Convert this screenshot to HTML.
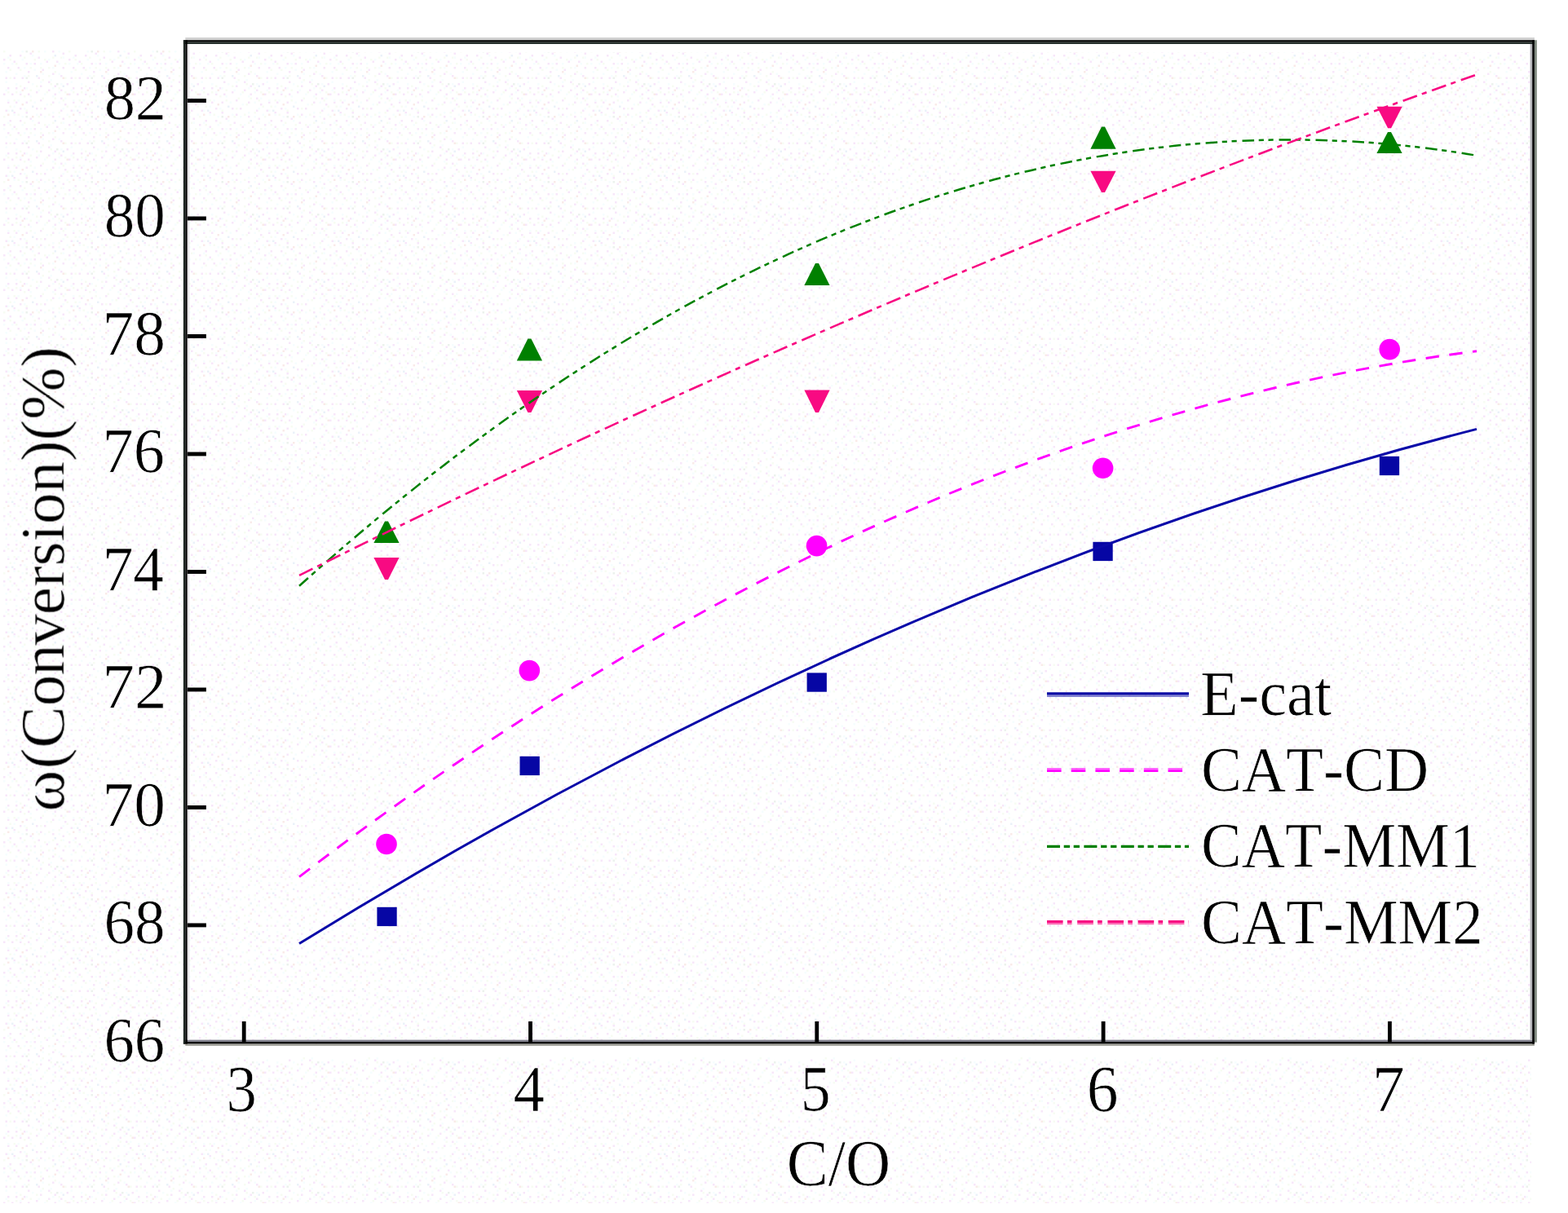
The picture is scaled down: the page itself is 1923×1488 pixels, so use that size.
<!DOCTYPE html>
<html lang="en">
<head>
<meta charset="utf-8">
<title>Conversion vs C/O</title>
<style>
html,body{margin:0;padding:0;background:#fff;overflow:hidden}
svg{display:block}
text{font-family:"Liberation Serif","DejaVu Serif",serif;font-kerning:none;fill:#000;font-size:79.5px;stroke:#fff;stroke-width:0.7px;stroke-linejoin:round}
.soft{filter:blur(0.55px)}
</style>
</head>
<body>
<svg xmlns="http://www.w3.org/2000/svg" width="1923" height="1488" viewBox="0 0 1923 1488">
<defs>
<pattern id="dz" width="80" height="80" patternUnits="userSpaceOnUse" x="4" y="62">
<path fill="#f7e7fa" d="M70 72.5h2.5v2.5h-2.5zM70 30h2.5v2.5h-2.5zM27.5 75h2.5v2.5h-2.5zM27.5 15h2.5v2.5h-2.5zM70 47.5h2.5v2.5h-2.5zM5 62.5h2.5v2.5h-2.5zM0 10h2.5v2.5h-2.5zM7.5 5h2.5v2.5h-2.5zM30 37.5h2.5v2.5h-2.5zM2.5 72.5h2.5v2.5h-2.5zM50 70h2.5v2.5h-2.5zM45 77.5h2.5v2.5h-2.5zM65 12.5h2.5v2.5h-2.5zM40 50h2.5v2.5h-2.5zM15 62.5h2.5v2.5h-2.5zM15 45h2.5v2.5h-2.5zM60 62.5h2.5v2.5h-2.5zM52.5 12.5h2.5v2.5h-2.5zM17.5 20h2.5v2.5h-2.5zM37.5 15h2.5v2.5h-2.5zM2.5 32.5h2.5v2.5h-2.5zM27.5 62.5h2.5v2.5h-2.5zM22.5 32.5h2.5v2.5h-2.5zM0 52.5h2.5v2.5h-2.5zM45 60h2.5v2.5h-2.5zM12.5 32.5h2.5v2.5h-2.5zM72.5 20h2.5v2.5h-2.5zM60 27.5h2.5v2.5h-2.5zM30 25h2.5v2.5h-2.5zM42.5 32.5h2.5v2.5h-2.5zM32.5 2.5h2.5v2.5h-2.5zM20 5h2.5v2.5h-2.5zM55 47.5h2.5v2.5h-2.5zM70 57.5h2.5v2.5h-2.5zM5 20h2.5v2.5h-2.5zM12.5 75h2.5v2.5h-2.5zM60 0h2.5v2.5h-2.5zM77.5 40h2.5v2.5h-2.5zM47.5 22.5h2.5v2.5h-2.5zM20 70h2.5v2.5h-2.5zM62.5 42.5h2.5v2.5h-2.5zM55 37.5h2.5v2.5h-2.5zM25 45h2.5v2.5h-2.5zM30 52.5h2.5v2.5h-2.5zM40 70h2.5v2.5h-2.5zM12.5 12.5h2.5v2.5h-2.5zM72.5 2.5h2.5v2.5h-2.5zM45 42.5h2.5v2.5h-2.5zM62.5 52.5h2.5v2.5h-2.5zM42.5 7.5h2.5v2.5h-2.5zM10 52.5h2.5v2.5h-2.5zM75 65h2.5v2.5h-2.5zM20 52.5h2.5v2.5h-2.5zM5 45h2.5v2.5h-2.5z"/>
<path fill="#f7fcf3" d="M45 20h2.5v2.5h-2.5zM62.5 25h2.5v2.5h-2.5zM50 10h2.5v2.5h-2.5zM52.5 50h2.5v2.5h-2.5zM30 30h2.5v2.5h-2.5zM7.5 32.5h2.5v2.5h-2.5zM32.5 60h2.5v2.5h-2.5zM7.5 67.5h2.5v2.5h-2.5zM60 7.5h2.5v2.5h-2.5zM75 15h2.5v2.5h-2.5zM12.5 60h2.5v2.5h-2.5zM17.5 77.5h2.5v2.5h-2.5zM15 15h2.5v2.5h-2.5zM7.5 10h2.5v2.5h-2.5zM57.5 65h2.5v2.5h-2.5zM55 77.5h2.5v2.5h-2.5zM20 42.5h2.5v2.5h-2.5zM37.5 10h2.5v2.5h-2.5zM57.5 40h2.5v2.5h-2.5zM20 22.5h2.5v2.5h-2.5zM77.5 67.5h2.5v2.5h-2.5zM67.5 45h2.5v2.5h-2.5zM5 50h2.5v2.5h-2.5zM72.5 60h2.5v2.5h-2.5zM32.5 20h2.5v2.5h-2.5zM75 50h2.5v2.5h-2.5zM0 0h2.5v2.5h-2.5zM67.5 75h2.5v2.5h-2.5zM42.5 0h2.5v2.5h-2.5zM27.5 72.5h2.5v2.5h-2.5zM55 20h2.5v2.5h-2.5zM25 55h2.5v2.5h-2.5zM32.5 47.5h2.5v2.5h-2.5zM47.5 57.5h2.5v2.5h-2.5zM7.5 22.5h2.5v2.5h-2.5zM40 42.5h2.5v2.5h-2.5zM25 7.5h2.5v2.5h-2.5zM75 32.5h2.5v2.5h-2.5zM47.5 35h2.5v2.5h-2.5zM45 70h2.5v2.5h-2.5zM62.5 57.5h2.5v2.5h-2.5zM70 7.5h2.5v2.5h-2.5zM15 50h2.5v2.5h-2.5zM55 30h2.5v2.5h-2.5z"/>
<path fill="#f6fdfe" d="M15 27.5h2.5v2.5h-2.5zM25 70h2.5v2.5h-2.5zM10 15h2.5v2.5h-2.5zM50 52.5h2.5v2.5h-2.5zM47.5 27.5h2.5v2.5h-2.5zM12.5 77.5h2.5v2.5h-2.5zM70 40h2.5v2.5h-2.5zM45 37.5h2.5v2.5h-2.5zM35 40h2.5v2.5h-2.5zM5 60h2.5v2.5h-2.5zM2.5 47.5h2.5v2.5h-2.5zM32.5 55h2.5v2.5h-2.5zM45 15h2.5v2.5h-2.5zM22.5 0h2.5v2.5h-2.5zM17.5 60h2.5v2.5h-2.5zM37.5 62.5h2.5v2.5h-2.5zM72.5 70h2.5v2.5h-2.5zM15 40h2.5v2.5h-2.5zM60 75h2.5v2.5h-2.5zM55 10h2.5v2.5h-2.5zM32.5 15h2.5v2.5h-2.5zM67.5 27.5h2.5v2.5h-2.5zM72.5 7.5h2.5v2.5h-2.5zM37.5 22.5h2.5v2.5h-2.5zM57.5 35h2.5v2.5h-2.5zM2.5 25h2.5v2.5h-2.5zM0 15h2.5v2.5h-2.5zM2.5 37.5h2.5v2.5h-2.5zM40 77.5h2.5v2.5h-2.5zM25 30h2.5v2.5h-2.5zM60 55h2.5v2.5h-2.5zM50 0h2.5v2.5h-2.5zM60 20h2.5v2.5h-2.5zM60 45h2.5v2.5h-2.5zM52.5 65h2.5v2.5h-2.5zM22.5 10h2.5v2.5h-2.5zM67.5 62.5h2.5v2.5h-2.5zM75 57.5h2.5v2.5h-2.5zM77.5 77.5h2.5v2.5h-2.5zM27.5 45h2.5v2.5h-2.5zM67.5 15h2.5v2.5h-2.5zM5 7.5h2.5v2.5h-2.5zM25 20h2.5v2.5h-2.5zM35 5h2.5v2.5h-2.5zM42.5 47.5h2.5v2.5h-2.5zM20 50h2.5v2.5h-2.5zM5 72.5h2.5v2.5h-2.5zM67.5 50h2.5v2.5h-2.5zM67.5 0h2.5v2.5h-2.5zM12.5 67.5h2.5v2.5h-2.5z"/>
<path fill="#f9ebe9" d="M72.5 32.5h2.5v2.5h-2.5zM22.5 47.5h2.5v2.5h-2.5zM35 0h2.5v2.5h-2.5zM62.5 17.5h2.5v2.5h-2.5zM22.5 65h2.5v2.5h-2.5zM5 77.5h2.5v2.5h-2.5zM45 25h2.5v2.5h-2.5zM77.5 52.5h2.5v2.5h-2.5z"/>
<path fill="#ebf2f9" d="M35 67.5h2.5v2.5h-2.5zM10 72.5h2.5v2.5h-2.5zM62.5 5h2.5v2.5h-2.5zM72.5 42.5h2.5v2.5h-2.5zM40 30h2.5v2.5h-2.5z"/>
<path fill="#ecf2ed" d="M27.5 32.5h2.5v2.5h-2.5zM27.5 0h2.5v2.5h-2.5zM65 40h2.5v2.5h-2.5z"/>
</pattern>
</defs>
<rect width="1923" height="1488" fill="#fff"/>
<rect x="4" y="62" width="1874" height="1414" fill="url(#dz)"/>
<rect x="230" y="54" width="1647" height="10" fill="#fff"/>
<rect x="230" y="1283" width="1652" height="14" fill="#fff"/>
<g class="soft">
<g fill="#0606a4">
<rect x="462.4" y="1112.8" width="24.3" height="23.3"/>
<rect x="637.5" y="927.8" width="24.3" height="23.3"/>
<rect x="989.6" y="825.4" width="24.3" height="23.3"/>
<rect x="1340.4" y="664.8" width="24.3" height="23.3"/>
<rect x="1691.8" y="559.8" width="24.3" height="23.3"/>
</g>
<g fill="#ff00ff">
<circle cx="474.0" cy="1035.5" r="12.8"/>
<circle cx="649.3" cy="822.6" r="12.8"/>
<circle cx="1001.6" cy="669.6" r="12.8"/>
<circle cx="1352.6" cy="574.3" r="12.8"/>
<circle cx="1704.2" cy="428.6" r="12.8"/>
</g>
<g fill="#008000">
<path d="M472.0 639.4h4L489.6 666.1H458.4Z"/>
<path d="M647.4 415.6h4L665.0 442.4H633.8Z"/>
<path d="M1000.0 322.9h4L1017.6 350.1H986.4Z"/>
<path d="M1351.0 155.4h4L1368.6 182.8H1337.4Z"/>
<path d="M1702.0 161.9h4L1719.6 188.1H1688.4Z"/>
</g>
<g fill="#f80a82">
<path d="M472.0 710.9h4L489.6 683.9H458.4Z"/>
<path d="M647.4 506.1h4L665.0 478.9H633.8Z"/>
<path d="M1000.0 505.9h4L1017.6 478.6H986.4Z"/>
<path d="M1351.0 236.1h4L1368.6 209.7H1337.4Z"/>
<path d="M1702.1 157.2h4L1719.7 130.8H1688.5Z"/>
</g>
<g fill="none">
<path d="M367.0 1157.5Q1089.0 710.6 1811.0 526.4" stroke="#0a0aa8" stroke-width="3.0"/>
<path d="M367.0 1075.6Q1089.0 522.6 1811.0 430.7" stroke="#ff00ff" stroke-width="2.9" stroke-dasharray="16.4 12.6" stroke-dashoffset="0"/>
<path d="M367.0 718.8Q1089.0 68.5 1811.0 190.8" stroke="#008000" stroke-width="2.5" stroke-dasharray="14.6 5.6 6.2 5.6 6.2 6.8" stroke-dashoffset="0"/>
<path d="M367.0 705.9Q1089.0 345.1 1811.0 91.5" stroke="#f80a82" stroke-width="2.6" stroke-dasharray="18.3 6.3 6.2 7" stroke-dashoffset="0"/>
</g>
<path d="M1284 850.7H1458" fill="none" stroke="#0606a4" stroke-width="3.0"/>
<path d="M1284 853.5H1458" fill="none" stroke="#0606a4" stroke-width="2.8" stroke-opacity="0.5"/>
<path d="M1284 943.2H1458" fill="none" stroke="#ff00ff" stroke-width="2.4" stroke-dasharray="17.6 12.1" stroke-opacity="0.6"/>
<path d="M1284 945.6H1458" fill="none" stroke="#ff00ff" stroke-width="2.7" stroke-dasharray="17.6 12.1"/>
<path d="M1284 1038.3H1458" fill="none" stroke="#008000" stroke-width="3.3" stroke-dasharray="16 4.7 7.3 4.7 7.3 5.4"/>
<path d="M1284 1130.6H1458" fill="none" stroke="#f80a82" stroke-width="3.0" stroke-dasharray="19.6 5.3 5.6 6.7"/>
<path d="M1284 1133.1H1458" fill="none" stroke="#f80a82" stroke-width="2.3" stroke-dasharray="19.6 5.3 5.6 6.7" stroke-opacity="0.6"/>
</g>
<g>
<rect x="227.3" y="46" width="1654.6" height="3.2" fill="#d0d0d0"/>
<rect x="224.9" y="49.2" width="1657" height="2.5" fill="#000"/>
<rect x="224.9" y="51.7" width="1657" height="2.3" fill="#26302c"/>
<rect x="224.9" y="1275.6" width="1657" height="2.5" fill="#80808c"/>
<rect x="224.9" y="1278.1" width="1657" height="2.5" fill="#000"/>
<rect x="227.3" y="1280.6" width="1654.6" height="2.3" fill="#a0a098"/>
<rect x="224.9" y="49.2" width="2.4" height="1231.4" fill="#1c2420"/>
<rect x="227.3" y="49.2" width="2.5" height="1231.4" fill="#000"/>
<rect x="229.8" y="54" width="2.4" height="1221.6" fill="#e8e6e8"/>
<rect x="1876.6" y="54" width="2.6" height="1221.6" fill="#b4b4b8"/>
<rect x="1879.2" y="49.2" width="2.7" height="1231.4" fill="#000"/>
<rect x="1881.9" y="49.2" width="2.9" height="1229.4" fill="#808a80"/>
<rect x="229.8" y="1132.5" width="23.1" height="4.9" fill="#000"/>
<rect x="229.8" y="988.0" width="23.1" height="4.9" fill="#000"/>
<rect x="229.8" y="843.5" width="23.1" height="4.9" fill="#000"/>
<rect x="229.8" y="699.0" width="23.1" height="4.9" fill="#000"/>
<rect x="229.8" y="554.5" width="23.1" height="4.9" fill="#000"/>
<rect x="229.8" y="410.0" width="23.1" height="4.9" fill="#000"/>
<rect x="229.8" y="265.5" width="23.1" height="4.9" fill="#000"/>
<rect x="229.8" y="121.0" width="23.1" height="4.9" fill="#000"/>
<rect x="296.8" y="1252.9" width="4.8" height="25.3" fill="#000"/>
<rect x="648.1" y="1252.9" width="4.8" height="25.3" fill="#000"/>
<rect x="999.4" y="1252.9" width="4.8" height="25.3" fill="#000"/>
<rect x="1350.7" y="1252.9" width="4.8" height="25.3" fill="#000"/>
<rect x="1702.0" y="1252.9" width="4.8" height="25.3" fill="#000"/>
</g>
<g class="soft">
<text transform="translate(127.38 1301.5) scale(0.9642 1)" style="font-size:77.6px">66</text>
<text transform="translate(127.38 1157.0) scale(0.9688 1)" style="font-size:77.6px">68</text>
<text transform="translate(125.55 1012.5) scale(0.9970 1)" style="font-size:77.6px">70</text>
<text transform="translate(125.39 868.0) scale(1.0186 1)" style="font-size:77.6px">72</text>
<text transform="translate(125.66 723.5) scale(0.9720 1)" style="font-size:77.6px">74</text>
<text transform="translate(125.58 579.0) scale(0.9843 1)" style="font-size:77.6px">76</text>
<text transform="translate(125.49 434.5) scale(0.9980 1)" style="font-size:77.6px">78</text>
<text transform="translate(127.84 290.0) scale(0.9667 1)" style="font-size:77.6px">80</text>
<text transform="translate(127.65 145.5) scale(0.9854 1)" style="font-size:77.6px">82</text>
<text transform="translate(277.43 1362.5) scale(0.9352 1)" style="font-size:80px">3</text>
<text transform="translate(629.48 1362.5) scale(0.9628 1)" style="font-size:80px">4</text>
<text transform="translate(981.70 1362.5) scale(0.9247 1)" style="font-size:80px">5</text>
<text transform="translate(1332.66 1362.5) scale(0.9702 1)" style="font-size:80px">6</text>
<text transform="translate(1682.71 1362.5) scale(0.9985 1)" style="font-size:80px">7</text>
<text transform="translate(964.85 1453.8) scale(0.9613 1)" style="font-size:79.5px">C/O</text>
<text transform="translate(1471.97 876.8) scale(0.9682 1)" style="font-size:79px">E-cat</text>
<text transform="translate(1473.08 969.8) scale(0.9489 1)" style="font-size:79px">CAT-CD</text>
<text transform="translate(1473.05 1063.4) scale(0.9392 1)" style="font-size:79px">CAT-MM1</text>
<text transform="translate(1473.07 1156.6) scale(0.9488 1)" style="font-size:79px">CAT-MM2</text>
<text transform="translate(78.2 995.5) rotate(-90)" style="font-size:77px" dx="0 1.5 0 0 -1 -1.5 -1">ω(Conversion)(%)</text>
</g>
</svg>
</body>
</html>
